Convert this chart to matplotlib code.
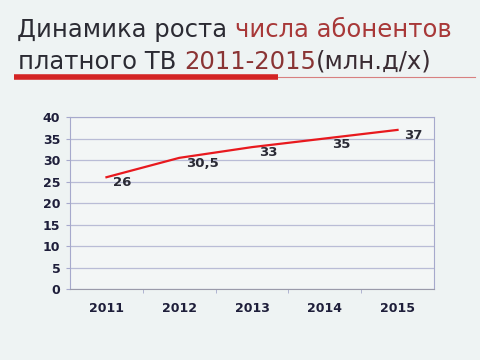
import matplotlib
matplotlib.use("Agg")
import matplotlib.pyplot as plt

years = ["2011", "2012", "2013", "2014", "2015"]
subscribers = [26, 30.5, 33, 35, 37]
point_labels = ["26", "30,5", "33", "35", "37"]
y_ticks = [0, 5, 10, 15, 20, 25, 30, 35, 40]

fig = plt.figure(figsize=(4.8, 3.6), dpi=100)
fig.patch.set_facecolor("#eef3f3")

# title, two lines, partly red
dark = "#2b2b33"
red = "#a83838"
fs = 17.5
t = fig.text(0.035, 0.918, "Динамика роста ", color=dark, fontsize=fs, va="center")
fig.canvas.draw()
r = fig.canvas.get_renderer()
bb = t.get_window_extent(r)
fig.text(bb.x1 / fig.bbox.width, 0.918, "числа абонентов", color=red, fontsize=fs, va="center")
t2 = fig.text(0.037, 0.828, "платного ТВ ", color=dark, fontsize=fs, va="center")
bb2 = t2.get_window_extent(r)
t3 = fig.text(bb2.x1 / fig.bbox.width, 0.828, "2011-2015", color="#8a3434", fontsize=fs, va="center")
bb3 = t3.get_window_extent(r)
fig.text(bb3.x1 / fig.bbox.width, 0.828, "(млн.д/х)", color="#3a2c33", fontsize=fs, va="center")

# red underline
fig.add_artist(plt.Line2D([0.03, 0.58], [0.786, 0.786], color="#d42424", lw=4, solid_capstyle="butt"))
fig.add_artist(plt.Line2D([0.58, 0.99], [0.786, 0.786], color="#d88080", lw=0.8))

ax = fig.add_axes([0.146, 0.197, 0.758, 0.478])
ax.set_facecolor("#f3f6f6")
x = list(range(len(years)))
ax.plot(x, subscribers, color="#e8191e", lw=1.6, zorder=3)
for xi, v, lab in zip(x, subscribers, point_labels):
    ax.annotate(lab, (xi, v), xytext=(5, -4), textcoords="offset points",
                ha="left", va="center", fontsize=9.5, fontweight="bold", color="#2a2a35")

ax.set_xlim(-0.5, len(years) - 0.5)
ax.set_ylim(0, 40)
ax.set_yticks(y_ticks)
ax.set_xticks(x)
ax.set_xticklabels(years)
ax.grid(axis="y", color="#b9bcd6", lw=0.9)
ax.set_axisbelow(True)
for s in ax.spines.values():
    s.set_color("#a6a9cc")
ax.spines["bottom"].set_color("#9a9aaa")
ax.tick_params(axis="y", length=3, color="#a6a9cc", labelsize=9, labelcolor="#1e1e3a", pad=4)
ax.tick_params(axis="x", length=0, labelsize=9, labelcolor="#1e1e3a", pad=9)
for lab in ax.get_xticklabels() + ax.get_yticklabels():
    lab.set_fontweight("bold")
# category boundary ticks
ax.set_xticks([i + 0.5 for i in range(len(years) - 1)], minor=True)
ax.tick_params(axis="x", which="minor", length=3, color="#a6a9cc")

fig.savefig("out.png", dpi=100, facecolor=fig.get_facecolor())
